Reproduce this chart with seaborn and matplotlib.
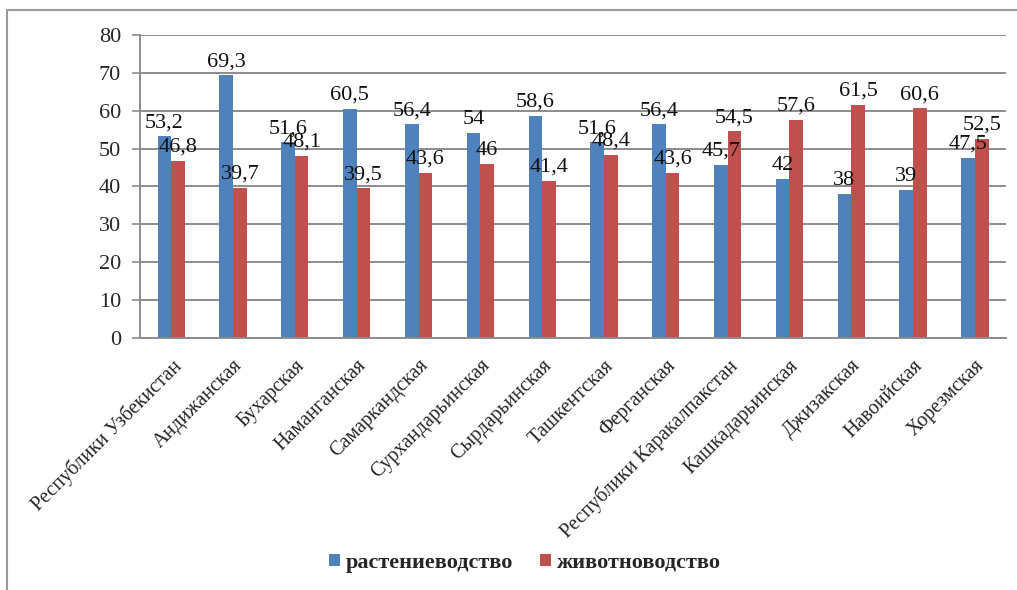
import pandas as pd
import matplotlib.pyplot as plt
import seaborn as sns
from matplotlib.lines import Line2D
from matplotlib.patches import Patch

regions = ["Республики Узбекистан", "Андижанская", "Бухарская", "Наманганская",
           "Самаркандская", "Сурхандарьинская", "Сырдарьинская", "Ташкентская",
           "Ферганская", "Республики Каракалпакстан", "Кашкадарьинская",
           "Джизакская", "Навоийская", "Хорезмская"]
crops = [53.2, 69.3, 51.6, 60.5, 56.4, 54, 58.6, 51.6, 56.4, 45.7, 42, 38, 39, 47.5]
livestock = [46.8, 39.7, 48.1, 39.5, 43.6, 46, 41.4, 48.4, 43.6, 54.5, 57.6, 61.5, 60.6, 52.5]
series = ["растениеводство", "животноводство"]
colors = ["#4F81BD", "#C0504D"]
yticks = [0, 10, 20, 30, 40, 50, 60, 70, 80]

df = pd.DataFrame({
    "region": regions * 2,
    "value": crops + livestock,
    "sector": [series[0]] * len(regions) + [series[1]] * len(regions),
})

sns.set_style("white")
plt.rcParams["font.family"] = ["Liberation Serif", "DejaVu Serif"]

fig = plt.figure(figsize=(10.17, 5.90), dpi=100)
ax = fig.add_axes([0.138, 0.427, 0.851, 0.514])

sns.barplot(data=df, x="region", y="value", hue="sector", palette=colors,
            width=0.44, saturation=1, ax=ax, legend=False, linewidth=0)

# data labels, comma as decimal separator
for cont in ax.containers:
    labs = [("%g" % b.get_height()).replace(".", ",") for b in cont]
    ax.bar_label(cont, labels=labs, padding=3, fontsize=16, color="#111111")

ax.set_ylim(0, 80)
ax.set_xlim(-0.5, len(regions) - 0.5)
ax.set_yticks(yticks)
ax.yaxis.grid(True, color="#8c8c8c", linewidth=1.4)
ax.set_axisbelow(True)
ax.set_xlabel("")
ax.set_ylabel("")

for s in ["top", "right"]:
    ax.spines[s].set_visible(False)
for s in ["left", "bottom"]:
    ax.spines[s].set_color("#8c8c8c")
    ax.spines[s].set_linewidth(1.4)

# Excel-style ticks between categories
ax.set_xticks(range(len(regions)))
ax.set_xticklabels(regions, rotation=45, ha="right", rotation_mode="anchor", fontsize=14.5)
ax.set_xticks([i - 0.5 for i in range(len(regions) + 1)], minor=True)
ax.tick_params(axis="x", which="major", length=0, pad=13)
ax.tick_params(axis="x", which="minor", length=6, color="#8c8c8c", width=1.2, direction="out")
ax.tick_params(axis="y", length=6, color="#8c8c8c", width=1.2, labelsize=16, pad=8, left=True)

# legend
handles = [Patch(facecolor=c, edgecolor="none") for c in colors]
fig.legend(handles, series, loc="center", bbox_to_anchor=(0.516, 0.046), ncol=2,
           frameon=False, handlelength=0.5, handleheight=0.5, columnspacing=1.2,
           handletextpad=0.25, prop={"weight": "bold", "size": 16})

# chart frame
fig.add_artist(Line2D([7 / 1017, 7 / 1017], [0, 1 - 10 / 590], color="#9a9a9a", lw=1.5))
fig.add_artist(Line2D([7 / 1017, 1], [1 - 10 / 590, 1 - 10 / 590], color="#9a9a9a", lw=1.5))

fig.savefig("out.png", dpi=100, facecolor="white")
